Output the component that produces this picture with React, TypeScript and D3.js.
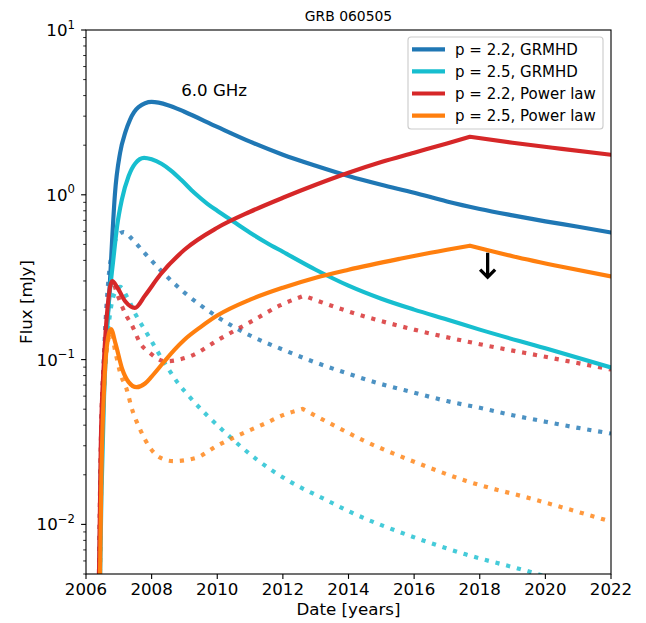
import React from 'react';
import * as d3 from 'd3';

// ---------- data ----------
const xTicks = [2006, 2008, 2010, 2012, 2014, 2016, 2018, 2020, 2022];
const yMajorTicks = [0.01, 0.1, 1, 10];
const yMajorExponents = ['−2', '−1', '0', '1'];

// p = 2.2, GRMHD (solid)
const gr22Years = [2006.38, 2006.45, 2006.52, 2006.6, 2006.7, 2006.8, 2006.88, 2007.04, 2007.2, 2007.34, 2007.6, 2008.0, 2008.5, 2009.0, 2010.0, 2011.0, 2012.0, 2013.0, 2014.0, 2015.0, 2016.0, 2017.0, 2018.0, 2019.0, 2020.0, 2021.0, 2022.0];
const gr22Flux = [0.002, 0.02, 0.057, 0.13, 0.23, 0.55, 1.0, 1.8, 2.4, 2.85, 3.4, 3.66, 3.5, 3.19, 2.58, 2.1, 1.75, 1.5, 1.3, 1.15, 1.03, 0.91, 0.82, 0.75, 0.69, 0.64, 0.59];

// p = 2.5, GRMHD (solid)
const gr25Years = [2006.4, 2006.47, 2006.55, 2006.68, 2006.83, 2006.95, 2007.09, 2007.3, 2007.5, 2007.77, 2008.0, 2008.3, 2008.6, 2008.9, 2009.3, 2009.7, 2010.0, 2010.5, 2011.0, 2011.5, 2012.0, 2013.0, 2014.0, 2015.0, 2016.0, 2017.0, 2018.0, 2020.0, 2022.0];
const gr25Flux = [0.002, 0.015, 0.06, 0.2, 0.4, 0.65, 0.93, 1.3, 1.55, 1.675, 1.641, 1.542, 1.398, 1.233, 1.028, 0.882, 0.8, 0.686, 0.589, 0.512, 0.451, 0.351, 0.281, 0.234, 0.201, 0.175, 0.152, 0.117, 0.0895];

// p = 2.2, Power law (solid), break at 2017.7
const pl22Years = [2006.37, 2006.45, 2006.55, 2006.67, 2006.8, 2006.95, 2007.2, 2007.49, 2007.8, 2008.26, 2009.0, 2010.0, 2011.0, 2012.0, 2013.0, 2014.0, 2015.0, 2016.0, 2017.0, 2017.7, 2019.0, 2020.5, 2022.0];
const pl22Flux = [0.002, 0.03, 0.1, 0.22, 0.3, 0.275, 0.225, 0.206, 0.245, 0.327, 0.464, 0.631, 0.789, 0.959, 1.15, 1.36, 1.58, 1.8, 2.05, 2.25, 2.07, 1.9, 1.75];

// p = 2.5, Power law (solid)
const pl25Years = [2006.4, 2006.47, 2006.57, 2006.67, 2006.76, 2006.9, 2007.1, 2007.3, 2007.54, 2007.8, 2008.0, 2008.36, 2008.7, 2009.0, 2009.5, 2010.0, 2011.0, 2012.0, 2013.0, 2014.0, 2015.57, 2016.5, 2017.7, 2019.0, 2020.5, 2022.0];
const pl25Flux = [0.002, 0.02, 0.08, 0.135, 0.153, 0.125, 0.088, 0.073, 0.068, 0.0716, 0.0789, 0.096, 0.115, 0.132, 0.158, 0.185, 0.231, 0.273, 0.314, 0.351, 0.409, 0.445, 0.491, 0.424, 0.366, 0.32];

// dotted companions
const gr22DotYears = [2006.38, 2006.46, 2006.56, 2006.68, 2006.83, 2007.0, 2007.14, 2007.4, 2007.8, 2008.26, 2009.0, 2009.98, 2011.0, 2012.0, 2013.0, 2014.0, 2015.0, 2016.0, 2017.0, 2018.0, 2019.0, 2020.0, 2021.0, 2022.0];
const gr22DotFlux = [0.002, 0.03, 0.12, 0.3, 0.48, 0.575, 0.594, 0.54, 0.44, 0.351, 0.255, 0.183, 0.14, 0.115, 0.096, 0.082, 0.071, 0.063, 0.056, 0.051, 0.046, 0.042, 0.0385, 0.0356];

const gr25DotYears = [2006.4, 2006.48, 2006.6, 2006.75, 2006.9, 2007.04, 2007.25, 2007.5, 2007.85, 2008.46, 2008.76, 2009.17, 2010.14, 2011.2, 2012.17, 2013.28, 2014.05, 2015.93, 2017.57, 2019.58, 2020.5];
const gr25DotFlux = [0.002, 0.03, 0.1, 0.2, 0.26, 0.276, 0.24, 0.19, 0.145, 0.091, 0.074, 0.059, 0.0377, 0.0248, 0.0184, 0.0142, 0.0119, 0.00845, 0.00658, 0.00512, 0.0045];

const pl22DotYears = [2006.37, 2006.45, 2006.55, 2006.67, 2006.8, 2006.95, 2007.1, 2007.24, 2007.39, 2007.65, 2007.95, 2008.41, 2009.17, 2010.08, 2011.1, 2011.91, 2012.64, 2014.0, 2016.0, 2018.0, 2020.0, 2022.0];
const pl22DotFlux = [0.002, 0.03, 0.1, 0.22, 0.3, 0.25, 0.21, 0.183, 0.163, 0.126, 0.1096, 0.0977, 0.1047, 0.1335, 0.173, 0.213, 0.244, 0.196, 0.152, 0.124, 0.104, 0.087];

const pl25DotYears = [2006.4, 2006.47, 2006.57, 2006.67, 2006.76, 2006.9, 2007.05, 2007.24, 2007.39, 2007.65, 2007.95, 2008.26, 2008.66, 2009.37, 2009.98, 2010.59, 2011.5, 2012.0, 2012.6, 2013.44, 2014.5, 2016.0, 2017.57, 2019.7, 2022.0];
const pl25DotFlux = [0.002, 0.02, 0.08, 0.13, 0.145, 0.11, 0.082, 0.066, 0.051, 0.0377, 0.0292, 0.0254, 0.0242, 0.0254, 0.0299, 0.0343, 0.0413, 0.046, 0.0502, 0.041, 0.032, 0.024, 0.0184, 0.0141, 0.0104];

const legendLabels = ['p = 2.2, GRMHD', 'p = 2.5, GRMHD', 'p = 2.2, Power law', 'p = 2.5, Power law'];
const colors = ['#1f77b4', '#17becf', '#d62728', '#ff7f0e'];

const titleText = 'GRB 060505';
const annotationText = '6.0 GHz';
const annotationPos = [2008.9, 4.0];
const arrowX = 2018.24;
const arrowFrom = 0.445;
const arrowTo = 0.314;

// ---------- layout ----------
const W = 646;
const H = 623;
const L = 86, R = 611, T = 30, B = 574;
const FONT = 'DejaVu Sans, sans-serif';

type Series = { years: number[]; flux: number[]; color: string; dotted: boolean; breakAt: number | null };

const series: Series[] = [
  { years: gr22DotYears, flux: gr22DotFlux, color: colors[0], dotted: true, breakAt: null },
  { years: gr25DotYears, flux: gr25DotFlux, color: colors[1], dotted: true, breakAt: null },
  { years: pl22DotYears, flux: pl22DotFlux, color: colors[2], dotted: true, breakAt: 16 },
  { years: pl25DotYears, flux: pl25DotFlux, color: colors[3], dotted: true, breakAt: 18 },
  { years: gr22Years, flux: gr22Flux, color: colors[0], dotted: false, breakAt: null },
  { years: gr25Years, flux: gr25Flux, color: colors[1], dotted: false, breakAt: null },
  { years: pl22Years, flux: pl22Flux, color: colors[2], dotted: false, breakAt: 19 },
  { years: pl25Years, flux: pl25Flux, color: colors[3], dotted: false, breakAt: 22 },
];

export default function App() {
  const x = d3.scaleLinear().domain([2006, 2022]).range([L, R]);
  const y = d3.scaleLog().domain([0.005, 10]).range([B, T]);

  const line = d3
    .line<[number, number]>()
    .x((d) => x(d[0]))
    .y((d) => y(d[1]))
    .curve(d3.curveMonotoneX);

  const makePath = (s: Series) => {
    const pts: [number, number][] = s.years.map((yr, i) => [yr, s.flux[i]]);
    if (s.breakAt == null) return line(pts) || '';
    const a = line(pts.slice(0, s.breakAt + 1)) || '';
    const b = line(pts.slice(s.breakAt)) || '';
    return a + b.replace(/^M[^A-Za-z]*/, '');
  };

  const minorTicks: number[] = [];
  for (let e = -3; e <= 1; e++) {
    for (let m = 2; m <= 9; m++) {
      const v = m * Math.pow(10, e);
      if (v >= 0.005 && v <= 10) minorTicks.push(v);
    }
  }

  const lw = 4.17;

  return (
    <svg width={W} height={H} style={{ position: 'absolute', left: 0, top: 0, background: '#fff' }} fontFamily={FONT}>
      <rect x={0} y={0} width={W} height={H} fill="#fff" />
      <defs>
        <clipPath id="plotclip">
          <rect x={L} y={T} width={R - L} height={B - T} />
        </clipPath>
      </defs>

      <g clipPath="url(#plotclip)">
        {series.map((s, i) => (
          <path
            key={i}
            d={makePath(s)}
            fill="none"
            stroke={s.color}
            strokeWidth={lw}
            strokeDasharray={s.dotted ? `${lw} ${lw * 1.65}` : undefined}
            strokeLinecap={s.dotted ? 'butt' : 'square'}
            strokeLinejoin="round"
            opacity={s.dotted ? 0.8 : 1}
          />
        ))}
      </g>

      {/* arrow */}
      <g stroke="#000" strokeWidth={3.3} fill="none">
        <line x1={x(arrowX)} x2={x(arrowX)} y1={y(arrowFrom)} y2={y(arrowTo) - 1} />
        <polyline points={`${x(arrowX) - 7.5},${y(arrowTo) - 8} ${x(arrowX)},${y(arrowTo) - 0.5} ${x(arrowX) + 7.5},${y(arrowTo) - 8}`} />
      </g>

      {/* annotation */}
      <text x={x(annotationPos[0])} y={y(annotationPos[1])} fontSize={16.67} fill="#000">
        {annotationText}
      </text>

      {/* frame */}
      <rect x={L} y={T} width={R - L} height={B - T} fill="none" stroke="#000" strokeWidth={1.11} />

      {/* x ticks */}
      {xTicks.map((t) => (
        <g key={t}>
          <line x1={x(t)} x2={x(t)} y1={B} y2={B + 4.9} stroke="#000" strokeWidth={1.11} />
          <text x={x(t)} y={B + 21} textAnchor="middle" fontSize={16.67} fill="#000">
            {t}
          </text>
        </g>
      ))}

      {/* y ticks */}
      {minorTicks.map((v) => (
        <line key={v} x1={L - 2.8} x2={L} y1={y(v)} y2={y(v)} stroke="#000" strokeWidth={0.83} />
      ))}
      {yMajorTicks.map((v, i) => (
        <g key={v}>
          <line x1={L - 4.9} x2={L} y1={y(v)} y2={y(v)} stroke="#000" strokeWidth={1.11} />
          <text x={L - 11} y={y(v) + 6} textAnchor="end" fontSize={16.67} fill="#000">
            10
            <tspan dy={-7.5} fontSize={11.7}>
              {yMajorExponents[i]}
            </tspan>
          </text>
        </g>
      ))}

      {/* axis labels */}
      <text x={(L + R) / 2} y={615} textAnchor="middle" fontSize={16.67} fill="#000">
        Date [years]
      </text>
      <text transform={`translate(32, ${(T + B) / 2}) rotate(-90)`} textAnchor="middle" fontSize={16.67} fill="#000">
        Flux [mJy]
      </text>

      {/* title */}
      <text x={(L + R) / 2} y={21} textAnchor="middle" fontSize={13.9} fill="#000">
        {titleText}
      </text>

      {/* legend */}
      <g>
        <rect x={408} y={37} width={195} height={92} rx={3} ry={3} fill="#fff" fillOpacity={0.8} stroke="#cccccc" strokeWidth={1.11} />
        {legendLabels.map((lab, i) => (
          <g key={lab}>
            <line x1={412} x2={445} y1={49.3 + i * 22.1} y2={49.3 + i * 22.1} stroke={colors[i]} strokeWidth={lw} />
            <text x={455} y={49.3 + i * 22.1 + 5.3} fontSize={15} fill="#000">
              {lab}
            </text>
          </g>
        ))}
      </g>
    </svg>
  );
}
